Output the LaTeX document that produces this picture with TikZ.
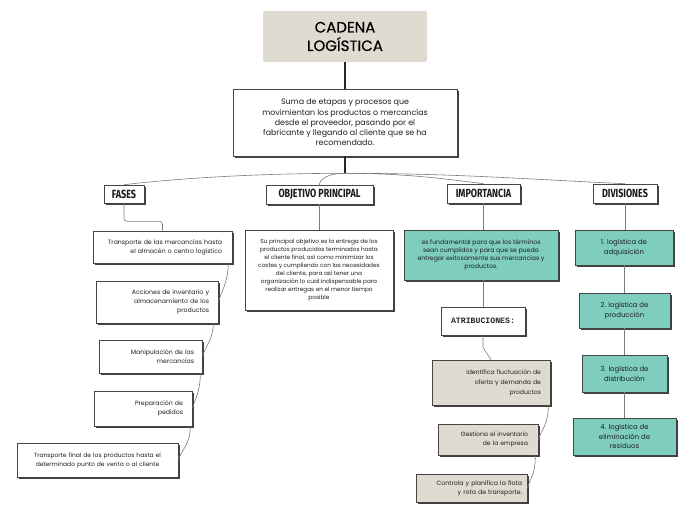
\documentclass[tikz,border=0pt]{standalone}
\usepackage{fontspec}
\setmainfont{Poppins}
\newfontfamily\titlefont[FakeBold=0.5]{Poppins}
\newfontfamily\headfont[FakeStretch=0.76]{Fira Sans}
\newfontfamily\atribfont{Liberation Mono}
\usetikzlibrary{shadows}
\definecolor{tealbox}{HTML}{7ECDBE}
\definecolor{beigebox}{HTML}{E0DBD0}
\definecolor{txt}{HTML}{1E1E1E}
\definecolor{edgec}{HTML}{444444}
\definecolor{conn}{HTML}{7A7A7A}
\begin{document}
\begin{tikzpicture}[x=1pt,y=-1pt,
  sz/.style 2 args={minimum width=#1pt,minimum height=#2pt},
  sh/.style={drop shadow={shadow xshift=1.8pt,shadow yshift=-1.8pt,fill=black!75,opacity=1}},
  card/.style={draw=edgec,line width=0.6pt,sh,inner sep=0pt,text=txt},
  whitecard/.style={card,fill=white},
  tealcard/.style={card,fill=tealbox},
  beigecard/.style={card,fill=beigebox},
  headbox/.style={whitecard,font=\headfont\bfseries\fontsize{11.8}{12}\selectfont,text=black!90},
  conline/.style={draw=conn,line width=0.6pt},
]
\useasboundingbox (0,0) rectangle (696,520);

% title and definition
\node[fill=beigebox,rounded corners=2pt,sz={164}{51},align=center,
  font=\titlefont\fontsize{15}{18.5}\selectfont,text=black] (title) at (345,36.5) {CADENA\\LOGÍSTICA};
\node[whitecard,sz={224}{67},align=center,font=\fontsize{7.9}{10.2}\selectfont] (def) at (345,122.5)
  {Suma de etapas y procesos que\\movimientan los productos o mercancías\\desde el proveedor, pasando por el\\fabricante y llegando al cliente que se ha\\recomendado.};

% headings
\node[headbox,sz={40}{18}] (fases) at (124,194) {FASES};
\node[headbox,sz={107}{19}] (objh) at (319.5,194.5) {OBJETIVO PRINCIPAL};
\node[headbox,sz={73}{19}] (imph) at (483.5,193.5) {IMPORTANCIA};
\node[headbox,sz={64}{19}] (divh) at (625,193.5) {DIVISIONES};

% fases
\node[whitecard,sz={139}{32},text width=119pt,align=right,font=\fontsize{6.2}{9}\selectfont] (b1) at (162.5,247)
  {Transporte de las mercancías hasta\\el almacén o centro logístico};
\node[whitecard,sz={122}{42},text width=104pt,align=right,font=\fontsize{6.2}{9}\selectfont] (b2) at (157,302)
  {Acciones de inventario y\\almacenamiento de los\\productos};
\node[whitecard,sz={103}{33},text width=87pt,align=right,font=\fontsize{6.2}{9}\selectfont] (b3) at (150.5,356.5)
  {Manipulación de las\\mercancías};
\node[whitecard,sz={98}{35},text width=80pt,align=right,font=\fontsize{6.2}{9}\selectfont] (b4) at (143,408.5)
  {Preparación de\\pedidos};
\node[whitecard,sz={161}{34},text width=141pt,align=center,font=\fontsize{6}{9}\selectfont] (b5) at (97.5,460)
  {Transporte final de los productos hasta el\\determinado punto de venta o al cliente};

% objetivo
\node[whitecard,sz={148}{80},align=center,font=\fontsize{5.8}{8.1}\selectfont] (objt) at (319,270)
  {Su principal objetivo es la entrega de los\\productos producidos terminados hasta\\el cliente final, así como minimizar los\\costes y cumpliendo con las necesidades\\del cliente, para así tener una\\organización lo cual indispensable para\\realizar entregas en el menor tiempo\\posible};

% importancia
\node[tealcard,sz={154}{50},align=center,font=\fontsize{6.2}{8.2}\selectfont] (impt) at (481,255)
  {es fundamental para que los términos\\sean cumplidos y para que se pueda\\entregar exitosamente sus mercancías y\\productos.};
\node[whitecard,sz={84}{28},font=\atribfont\bfseries\fontsize{8.2}{10}\selectfont,text=black!85] (atrib) at (483,321) {ATRIBUCIONES:};
\node[beigecard,sz={118}{45},text width=100pt,align=right,font=\fontsize{6.1}{10}\selectfont] (be1) at (491,382.5)
  {Identifica fluctuación de\\oferta y demanda de\\productos};
\node[beigecard,sz={100}{31},text width=80pt,align=right,font=\fontsize{6.1}{9}\selectfont] (be2) at (488,439.5)
  {Gestiona el inventario\\de la empresa};
\node[beigecard,sz={111}{28},text width=101pt,align=right,font=\fontsize{6.2}{9}\selectfont] (be3) at (471.5,488)
  {Controla y planifica la flota\\y rota de transporte.};

% divisiones
\node[tealcard,sz={98}{35},align=center,font=\fontsize{6.9}{10}\selectfont] (d1) at (624,247.5) {1. logística de\\adquisición};
\node[tealcard,sz={91}{35},align=center,font=\fontsize{6.9}{10}\selectfont] (d2) at (624.5,310.5) {2. logística de\\producción};
\node[tealcard,sz={85}{37},align=center,font=\fontsize{6.9}{10}\selectfont] (d3) at (624.5,373.5) {3. logística de\\distribución};
\node[tealcard,sz={103}{37},align=center,font=\fontsize{6.9}{9.5}\selectfont] (d4) at (624.5,436.5) {4. logística de\\eliminación de\\residuos};

% main connectors
\draw[line width=1.8pt,black!85] (title.south) -- (def.north);
\draw[line width=1.1pt,black!85] (def.south) -- ++(0,17) coordinate (j);
\draw[conline] (j) .. controls +(-90,0) and +(50,-6) .. (fases.north);
\draw[conline] (j) .. controls +(-16,0) and +(0,-6) .. (objh.north);
\draw[conline] (j) .. controls +(60,0) and +(-40,-5) .. (imph.north);
\draw[conline] (j) .. controls +(110,0) and +(-90,-4) .. (divh.north);

% fases connectors
\draw[conline,rounded corners=3pt] (fases.south) -- ++(0,18) -| (b1.north);
\draw[conline] ([xshift=-4pt]b1.south east) .. controls +(0,18) and +(3,-10) .. (b2.east);
\draw[conline] ([xshift=-5pt]b2.south east) .. controls +(0,16) and +(3,-10) .. (b3.east);
\draw[conline] ([xshift=-2pt]b3.south east) .. controls +(0,18) and +(3,-10) .. (b4.east);
\draw[conline] ([xshift=-2pt]b4.south east) .. controls +(0,18) and +(3,-10) .. (b5.east);

% objetivo connector
\draw[conline] (objh.south) -- (objh.south |- objt.north);

% importancia connectors
\draw[conline] (imph.south) -- (imph.south |- impt.north);
\draw[conline] (impt.south -| atrib.north) -- (atrib.north);
\draw[conline] (atrib.south) -- ++(0,12) -- (be1.north);
\draw[conline] ([xshift=-2pt]be1.south east) .. controls +(0,20) and +(3,-10) .. (be2.east);
\draw[conline] ([xshift=-3pt]be2.south east) .. controls +(0,20) and +(3,-10) .. (be3.east);

% divisiones connectors
\draw[conline] (divh.south) -- (divh.south |- d1.north);
\draw[conline] (d1.south) -- (d1.south |- d2.north);
\draw[conline] (d2.south) -- (d2.south |- d3.north);
\draw[conline] (d3.south) -- (d3.south |- d4.north);
\end{tikzpicture}
\end{document}
